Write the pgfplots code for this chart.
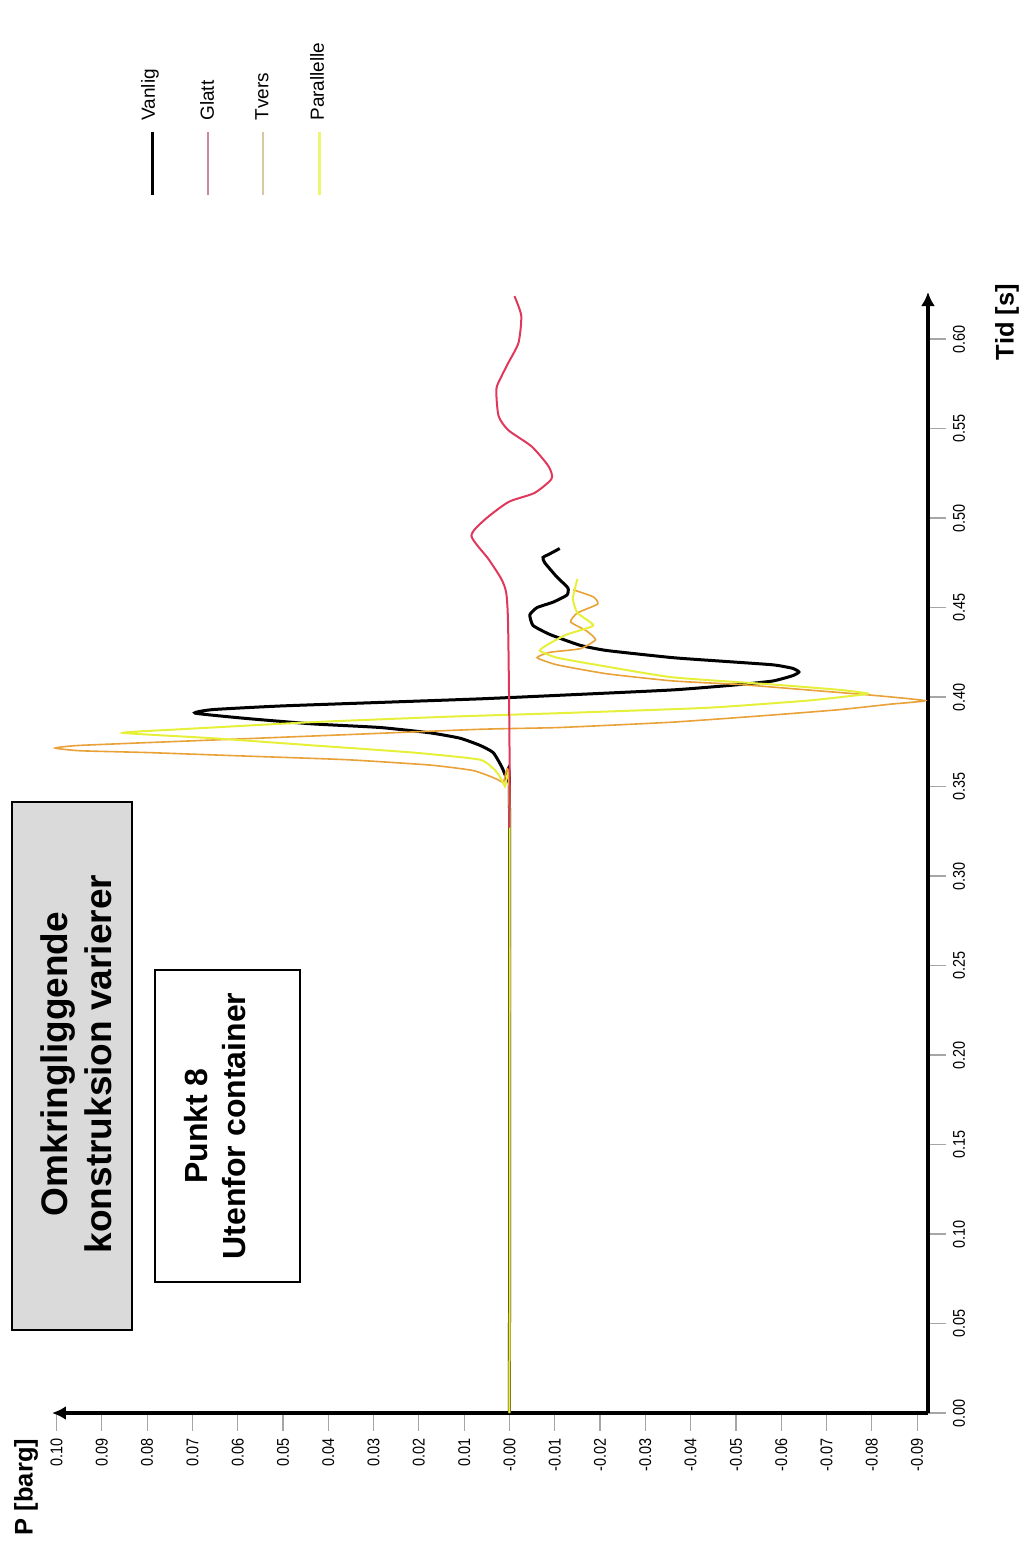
\documentclass[border=0pt]{standalone}
\usepackage{fontspec}
\setmainfont{Liberation Sans}
\newfontfamily\tickfont[FakeStretch=0.85]{Liberation Sans}
\usepackage{pgfplots}
\pgfplotsset{compat=1.18}
\usetikzlibrary{arrows.meta}
\definecolor{cRed}{HTML}{E0385C}
\definecolor{cOrange}{HTML}{E8A238}
\definecolor{cYellow}{HTML}{E6F03A}
\definecolor{lgRed}{HTML}{D08898}
\definecolor{lgOrange}{HTML}{D8C8A0}
\definecolor{lgYellow}{HTML}{EEF570}
\begin{document}
\begin{tikzpicture}
\begin{scope}[x=0.5pt,y=-0.5pt]
\useasboundingbox (0,0) rectangle (1024,1544);
\end{scope}
\begin{axis}[
  at={(245pt,-426.25pt)}, anchor=center,
  scale only axis, width=438pt, height=560.5pt,
  x dir=reverse,
  xmin=-0.0924, xmax=0.1010, ymin=0, ymax=0.6263,
  axis x line=bottom, axis y line=right,
  axis line style={line width=2pt, -{Latex[length=7pt,width=7pt]}},
  tick align=outside, major tick length=9pt,
  tick style={gray!70, line width=0.6pt},
  xtick={-0.09,-0.08,-0.07,-0.06,-0.05,-0.04,-0.03,-0.02,-0.01,0,0.01,0.02,0.03,0.04,0.05,0.06,0.07,0.08,0.09,0.10},
  xticklabels={-0.09,-0.08,-0.07,-0.06,-0.05,-0.04,-0.03,-0.02,-0.01,-0.00,0.01,0.02,0.03,0.04,0.05,0.06,0.07,0.08,0.09,0.10},
  ytick={0,0.05,0.10,0.15,0.20,0.25,0.30,0.35,0.40,0.45,0.50,0.55,0.60},
  yticklabels={0.00,0.05,0.10,0.15,0.20,0.25,0.30,0.35,0.40,0.45,0.50,0.55,0.60},
  xticklabel style={rotate=90, anchor=east, font=\tickfont\fontsize{8.5}{10}\selectfont},
  yticklabel style={rotate=90, anchor=north, font=\tickfont\fontsize{8.5}{10}\selectfont},
  clip=false,
]
% Vanlig
\addplot[black, line width=1.5pt, smooth, tension=0.3] coordinates {
(0,0) (0,0.345) (0.0006,0.354) (0.0017,0.361) (0.0036,0.369) (0.0065,0.373) (0.0109,0.377)
(0.0175,0.380) (0.0286,0.383) (0.0434,0.385) (0.0579,0.388) (0.0694,0.391) (0.0655,0.393)
(0.0507,0.395) (0.0286,0.397) (0.0065,0.399) (-0.0111,0.401) (-0.0361,0.404) (-0.0509,0.407)
(-0.0582,0.409) (-0.0626,0.412) (-0.0639,0.414) (-0.0626,0.416) (-0.0582,0.418) (-0.0471,0.420)
(-0.0361,0.422) (-0.0215,0.426) (-0.0155,0.429) (-0.0089,0.435) (-0.0052,0.440) (-0.0045,0.446)
(-0.0061,0.450) (-0.0096,0.453) (-0.0127,0.457) (-0.0129,0.461) (-0.0105,0.467) (-0.0078,0.475)
(-0.0074,0.478) (-0.0089,0.480) (-0.0111,0.483)
};
% Tvers
\addplot[cOrange, line width=0.8pt, smooth, tension=0.3] coordinates {
(0,0) (0,0.345) (0.0014,0.352) (0.0036,0.355) (0.0081,0.359) (0.0175,0.362) (0.0359,0.365)
(0.0579,0.367) (0.0800,0.369) (0.0948,0.370) (0.1003,0.3715) (0.0948,0.373) (0.0655,0.376)
(0.0359,0.379) (0.0065,0.382) (-0.0111,0.383) (-0.0361,0.386) (-0.0582,0.390) (-0.0730,0.393)
(-0.0840,0.396) (-0.0917,0.398) (-0.0802,0.401) (-0.0657,0.404) (-0.0509,0.407) (-0.0361,0.409)
(-0.0215,0.413) (-0.0105,0.418) (-0.0061,0.422) (-0.0089,0.425) (-0.0156,0.427) (-0.0190,0.432)
(-0.0170,0.437) (-0.0135,0.442) (-0.0150,0.447) (-0.0195,0.452) (-0.0185,0.456) (-0.0140,0.460)
};
% Parallelle
\addplot[cYellow, line width=1pt, smooth, tension=0.3] coordinates {
(0,0) (0,0.343) (0.0010,0.350) (0.0028,0.358) (0.0065,0.365) (0.0213,0.369) (0.0434,0.373)
(0.0655,0.377) (0.0853,0.380) (0.0727,0.382) (0.0434,0.386) (0.0138,0.389) (-0.0111,0.391)
(-0.0436,0.394) (-0.0657,0.398) (-0.0767,0.401) (-0.0791,0.402) (-0.0730,0.404) (-0.0582,0.407)
(-0.0361,0.411) (-0.0215,0.417) (-0.0105,0.422) (-0.0067,0.426) (-0.0089,0.430) (-0.0127,0.435)
(-0.0185,0.440) (-0.0150,0.447) (-0.0140,0.455) (-0.0150,0.466)
};
% Glatt
\addplot[cRed, line width=1pt, smooth, tension=0.4] coordinates {
(0,0.327) (0,0.376) (0.0003,0.440) (0.0007,0.458) (0.0018,0.466) (0.0046,0.477) (0.0084,0.490)
(0.0055,0.499) (0.0002,0.509) (-0.0055,0.514) (-0.0093,0.522) (-0.0086,0.529) (-0.0049,0.540)
(0.0002,0.549) (0.0024,0.557) (0.0029,0.572) (0.0018,0.579) (0.0002,0.587) (-0.0020,0.598)
(-0.0026,0.613) (-0.0011,0.624)
};
\end{axis}
\begin{scope}[x=0.5pt,y=-0.5pt]
% legend
\draw[black, line width=1.5pt] (152,132) -- (152,195);
\draw[lgRed, line width=1.2pt] (208,132) -- (208,195);
\draw[lgOrange, line width=1.2pt] (263,132) -- (263,195);
\draw[lgYellow, line width=1.5pt] (319,132) -- (319,195);
\node[rotate=90, anchor=west, inner sep=0pt, font=\fontsize{9.5}{11}\selectfont] at (150,121) {Vanlig};
\node[rotate=90, anchor=west, inner sep=0pt, font=\fontsize{9.5}{11}\selectfont] at (207,121) {Glatt};
\node[rotate=90, anchor=west, inner sep=0pt, font=\fontsize{9.5}{11}\selectfont] at (262,121) {Tvers};
\node[rotate=90, anchor=west, inner sep=0pt, font=\fontsize{9.5}{11}\selectfont] at (317,121) {Parallelle};
% boxes
\draw[fill={rgb,255:red,218;green,218;blue,218}, line width=0.8pt] (12,802) rectangle (132,1330);
\node[rotate=90, align=center, font=\bfseries\fontsize{18.5}{22}\selectfont] at (76,1064) {Omkringliggende\\konstruksion varierer};
\draw[fill=white, line width=0.8pt] (155,970) rectangle (300,1282);
\node[rotate=90, align=center, font=\bfseries\fontsize{16}{18.75}\selectfont] at (215,1126) {Punkt 8\\Utenfor container};
% axis titles
\node[rotate=90, font=\bfseries\fontsize{12.75}{15}\selectfont] at (26,1487) {P [barg]};
\node[rotate=90, font=\bfseries\fontsize{12.75}{15}\selectfont] at (1007,322) {Tid [s]};
\end{scope}
\end{tikzpicture}
\end{document}
